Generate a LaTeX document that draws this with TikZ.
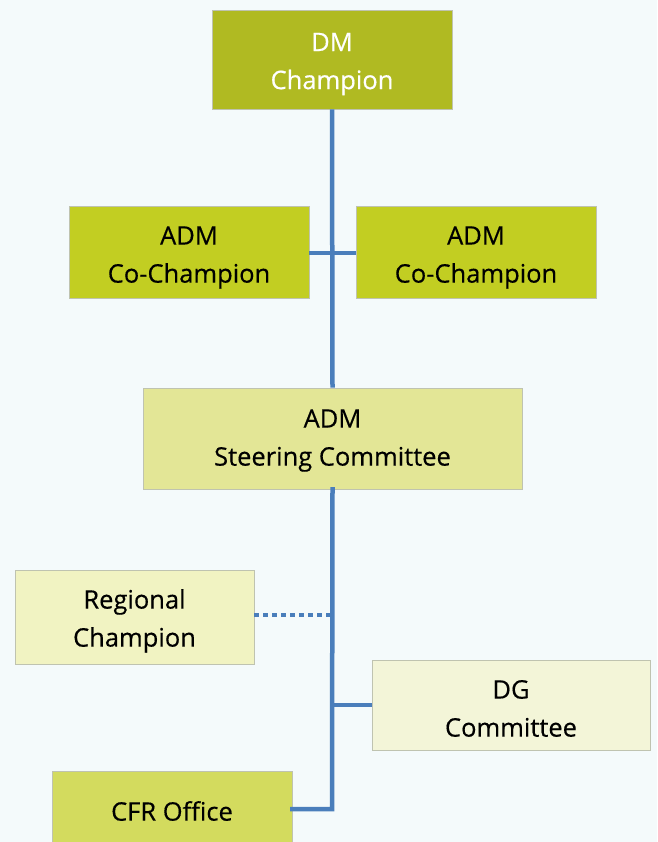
\documentclass[tikz,border=0pt]{standalone}
\usepackage{fontspec}
\setmainfont{Open Sans}[FakeBold=0.4]
\definecolor{bg}{HTML}{F4FAFB}
\definecolor{c1}{HTML}{B0BA22}
\definecolor{c2}{HTML}{C2CE22}
\definecolor{c3}{HTML}{E3E696}
\definecolor{c4}{HTML}{F1F3C2}
\definecolor{c5}{HTML}{F3F5D8}
\definecolor{c6}{HTML}{D3DB5E}
\definecolor{ln}{HTML}{4A7EBB}
\definecolor{bd}{HTML}{BFC3B0}
\newcommand{\boxtext}[2][-4pt]{\raisebox{#1}[\height][\depth]{\begin{tabular}{@{}c@{}}#2\end{tabular}}}
\begin{document}
\begin{tikzpicture}[x=1pt,y=-1pt,
  box/.style={draw=bd,line width=0.8pt,inner sep=0pt,font=\fontsize{25.5}{38}\selectfont},
  conn/.style={draw=ln,line width=4.5pt}]
\fill[bg] (0,0) rectangle (657,842);
\useasboundingbox (0,0) rectangle (657,842);
\node[box,fill=c1,text=white,minimum width=240,minimum height=99] (dm) at (332,59.5) {\boxtext[-3pt]{DM\\Champion}};
\node[box,fill=c2,minimum width=240,minimum height=92] (cl) at (189,252) {\boxtext{ADM\\Co-Champion}};
\node[box,fill=c2,minimum width=240,minimum height=92] (cr) at (476,252) {\boxtext{ADM\\Co-Champion}};
\node[box,fill=c3,minimum width=379,minimum height=101] (sc) at (332.5,438.5) {\boxtext[-0.5pt]{ADM\\Steering Committee}};
\node[box,fill=c4,minimum width=239,minimum height=94] (rc) at (134.5,617) {\boxtext[-3pt]{Regional\\Champion}};
\node[box,fill=c5,minimum width=278,minimum height=90] (dg) at (511,705) {\boxtext[-5pt]{DG\\Committee}};
\node[box,fill=c6,minimum width=240,minimum height=80] (cfr) at (172,811) {CFR Office};
\coordinate (jt) at (332,253);
\coordinate (jr) at (332,615);
\coordinate (jd) at (332,705);
\coordinate (jb) at (332,809);
\draw[conn] (dm.south) -- (sc.north);
\draw[conn] (cl.east |- jt) -- (cr.west |- jt);
\draw[conn,line cap=rect] (sc.south) -- (jb) -- (cfr.east |- jb);
\draw[conn] (jd) -- (dg.west);
\draw[draw=ln,line width=4pt,dash pattern=on 5pt off 4pt] (rc.east |- jr) -- (jr);
\end{tikzpicture}
\end{document}
